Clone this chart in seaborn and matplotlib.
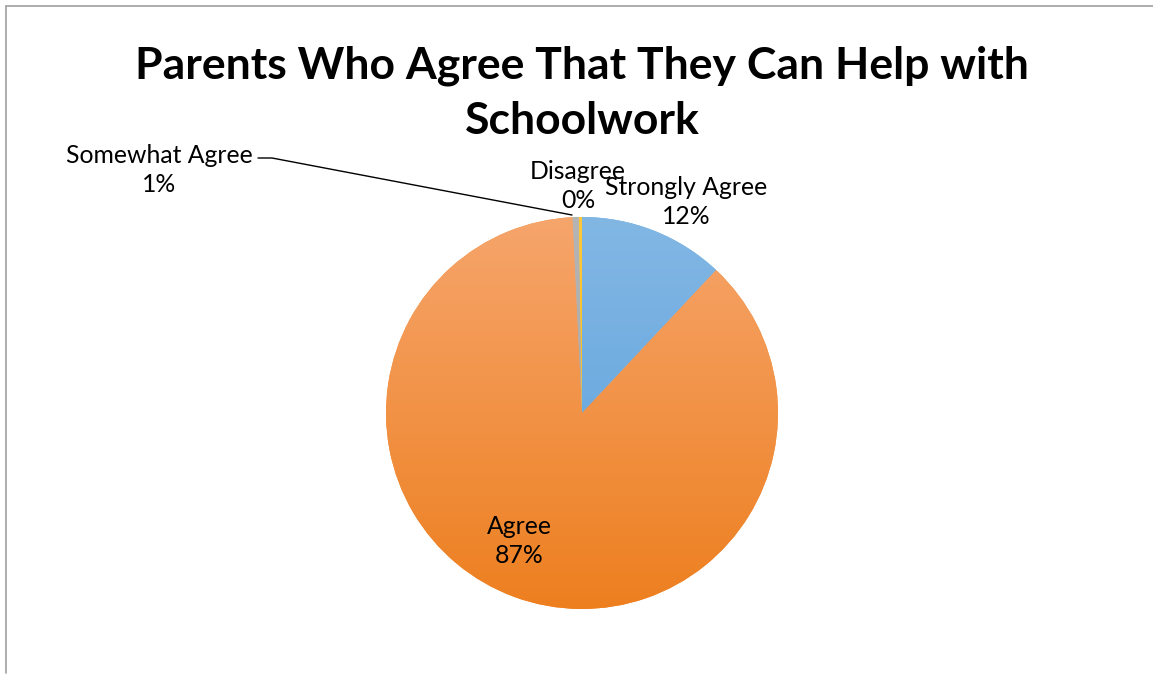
import numpy as np
import matplotlib
matplotlib.use("Agg")
import matplotlib.pyplot as plt
from matplotlib.colors import LinearSegmentedColormap
from matplotlib.lines import Line2D
import seaborn as sns

categories = ["Strongly Agree", "Agree", "Somewhat Agree", "Disagree"]
counts = [47, 342, 2, 1]
pct_labels = ["12%", "87%", "1%", "0%"]
title = "Parents Who Agree That They Can Help with\nSchoolwork"

sns.set_theme(style="white")
plt.rcParams["font.family"] = ["Lato", "DejaVu Sans"]

W, H = 1153, 675
fig = plt.figure(figsize=(W / 100, H / 100), dpi=100)
fig.patch.set_facecolor("white")

cx, cy, R = 582, 413, 196
half = 300
ax = fig.add_axes([(cx - half) / W, (H - cy - half) / H, 2 * half / W, 2 * half / H])
ax.set_xlim(-half / R, half / R)
ax.set_ylim(-half / R, half / R)
ax.set_aspect("equal")
ax.axis("off")

base_colors = ["#6AAADF", "#F38F3A", "#A5A5A5", "#FFC000"]
grads = [("#82B7E4", "#5A9FDB"), ("#F6A56C", "#ED7F1F"), ("#B5B5B5", "#A0A0A0"), ("#FFC83A", "#F5B800")]

wedges, _ = ax.pie(counts, colors=base_colors, startangle=90, counterclock=False,
                   radius=1, wedgeprops=dict(linewidth=0))

grad = np.linspace(0, 1, 256).reshape(-1, 1)
for w, (c1, c2) in zip(wedges, grads):
    cmap = LinearSegmentedColormap.from_list("g", [c1, c2])
    im = ax.imshow(grad, extent=[-1, 1, -1, 1], origin="upper", cmap=cmap,
                   aspect="auto", zorder=w.get_zorder() + 0.1, interpolation="bilinear")
    im.set_clip_path(w)
ax.set_xlim(-half / R, half / R)
ax.set_ylim(-half / R, half / R)


def px(x, y):
    return (x - cx) / R, (cy - y) / R


label_pos = {
    "Strongly Agree": (686, 202),
    "Agree": (519, 541),
    "Somewhat Agree": (159, 170),
    "Disagree": (578, 186),
}
for cat, pl in zip(categories, pct_labels):
    x, y = px(*label_pos[cat])
    ax.text(x, y, f"{cat}\n{pl}", ha="center", va="center", fontsize=17.8,
            color="#000000", linespacing=1.35, zorder=10)

lx = [px(258, 158)[0], px(272, 158)[0], px(572, 215)[0]]
ly = [px(258, 158)[1], px(272, 158)[1], px(572, 215)[1]]
ax.plot(lx, ly, color="black", lw=1.0, zorder=9, clip_on=False)

fig.text(582 / W, 1 - 93 / H, title, ha="center", va="center", fontsize=32,
         fontweight="bold", linespacing=1.45, color="black")

fig.add_artist(Line2D([6 / W, 1.0], [1 - 6 / H, 1 - 6 / H], color="#A0A0A0", lw=1.2))
fig.add_artist(Line2D([6 / W, 6 / W], [1 - 6 / H, 1 - 673 / H], color="#A0A0A0", lw=1.2))

fig.savefig("out.png", dpi=100, facecolor="white")
